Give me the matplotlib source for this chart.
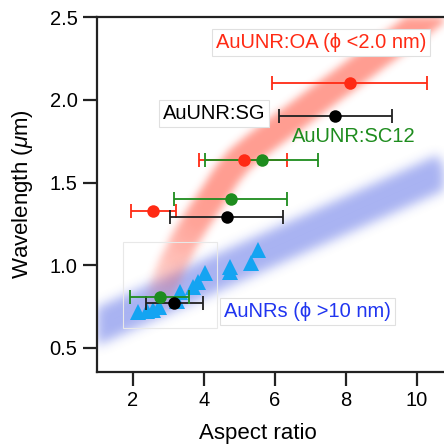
import numpy as np
import matplotlib
matplotlib.use("Agg")
import matplotlib.pyplot as plt
from matplotlib.collections import LineCollection
from matplotlib.patches import Rectangle

plt.rcParams['font.family'] = ['Liberation Sans', 'DejaVu Sans']
plt.rcParams['mathtext.fontset'] = 'custom'
plt.rcParams['mathtext.it'] = 'Liberation Sans:italic'
plt.rcParams['mathtext.rm'] = 'Liberation Sans'

# ---------------- data ----------------
oa_x = [2.57, 5.12, 8.10]
oa_y = [1.328, 1.637, 2.105]
oa_xmin = [1.93, 3.87, 5.92]
oa_xmax = [3.21, 6.34, 10.28]

sg_x = [3.15, 4.64, 7.70]
sg_y = [0.772, 1.29, 1.905]
sg_xmin = [2.36, 3.03, 6.11]
sg_xmax = [3.98, 6.22, 9.30]

sc_x = [2.76, 4.75, 5.63]
sc_y = [0.808, 1.40, 1.637]
sc_xmin = [1.92, 3.16, 4.04]
sc_xmax = [3.58, 6.34, 7.22]

nr_x = [2.15, 2.4, 2.55, 2.72, 3.25, 3.33, 3.7, 3.82, 4.04, 4.74, 4.74, 5.32, 5.52]
nr_y = [0.715, 0.72, 0.73, 0.745, 0.78, 0.84, 0.87, 0.90, 0.95, 0.96, 0.99, 1.01, 1.09]

# guide bands (hand-read centre lines)
red_band_x = [2.72, 2.80, 2.90, 3.00, 3.10, 3.27, 3.45, 3.65, 3.85, 4.10, 4.35, 4.65, 5.00, 5.45, 5.95, 7.20, 8.45, 9.70, 11.05]
red_band_y = [0.78, 0.84, 0.90, 0.95, 1.00, 1.07, 1.15, 1.22, 1.29, 1.37, 1.45, 1.55, 1.64, 1.72, 1.80, 2.00, 2.20, 2.40, 2.62]
red_band_fade = [0.0, 0.15, 0.30, 0.42, 0.52, 0.62, 0.72, 0.82, 0.90, 0.97, 1, 1, 1, 1, 1, 1, 1, 1, 1]

blue_band_x = [0.8, 11.4]
blue_band_y = [0.61, 1.63]

xticks = [2, 4, 6, 8, 10]
yticks = [0.5, 1.0, 1.5, 2.0, 2.5]
ytick_labels = ['0.5', '1.0', '1.5', '2.0', '2.5']

RED = '#ff2a14'
GREEN = '#1e8c1e'
BLACK = '#000000'
BLUE_TXT = '#2035f0'
TRI = '#14a4f2'


class BandFilter:
    def __init__(self, color, alpha, sigma):
        self.color = np.array(matplotlib.colors.to_rgb(color))
        self.alpha = alpha
        self.sigma = sigma

    def __call__(self, im, dpi):
        s = self.sigma
        r = int(3 * s) + 1
        a = im[..., 3] * im[..., 0]
        a = np.pad(a, r)
        k = np.exp(-0.5 * (np.arange(-r, r + 1) / s) ** 2)
        k /= k.sum()
        out = np.zeros_like(a)
        for i, w in enumerate(k):
            out += w * np.roll(a, i - r, axis=0)
        out2 = np.zeros_like(a)
        for i, w in enumerate(k):
            out2 += w * np.roll(out, i - r, axis=1)
        res = np.zeros(a.shape + (4,))
        res[..., :3] = self.color
        res[..., 3] = np.clip(out2 * self.alpha, 0, 1)
        return res, -r, -r


fig = plt.figure(figsize=(4.44, 4.44), dpi=100)
ax = fig.add_axes([97 / 444, 72 / 444, 363 / 444, 355 / 444])
ax.set_xlim(0.986, 11.21)
ax.set_ylim(0.353, 2.502)
ax.set_axisbelow(False)

# blue band
bl, = ax.plot(blue_band_x, blue_band_y, color=(1, 0.3, 0.3), lw=25, solid_capstyle='butt', zorder=1)
bl.set_agg_filter(BandFilter('#3048e0', 0.42, 5.5))

# red band with fading lower end
pts = np.column_stack([red_band_x, red_band_y])
segs = [pts[i:i + 2] for i in range(len(pts) - 1)]
fade = np.array(red_band_fade)
segv = (fade[:-1] + fade[1:]) / 2
lc = LineCollection(segs, colors=[(v, 0.3 * v, 0.3 * v, 1) for v in segv], linewidths=19,
                    capstyle='round', antialiaseds=False, zorder=1.1)
lc.set_agg_filter(BandFilter('#ff3a22', 0.5, 4.0))
ax.add_collection(lc)

# masks so blur does not spill outside the frame
for (x0, y0, w, h) in [(-0.1, -0.1, 0.1, 1.2), (0, 1, 1.1, 0.1), (0, -0.1, 1.1, 0.1)]:
    ax.add_patch(Rectangle((x0, y0), w, h, transform=ax.transAxes, fc='white',
                           ec='none', clip_on=False, zorder=1.9))

# faint frame artefact
ax.add_patch(Rectangle((1.72, 0.62), 2.65, 0.52, fc='none', ec='#e8e8e8', lw=0.8, zorder=2))

# triangles
ax.plot(nr_x, nr_y, linestyle='none', marker='^', markersize=12, color=TRI,
        markeredgewidth=0, zorder=3)

def ebar(x, y, xmin, xmax, c):
    x = np.array(x); xmin = np.array(xmin); xmax = np.array(xmax)
    ax.errorbar(x, y, xerr=[x - xmin, xmax - x], fmt='none', ecolor=c,
                elinewidth=1.3, capsize=4.8, capthick=1.3, zorder=4)

ebar(oa_x, oa_y, oa_xmin, oa_xmax, RED)
ebar(sg_x, sg_y, sg_xmin, sg_xmax, '#202020')
ebar(sc_x, sc_y, sc_xmin, sc_xmax, GREEN)
ax.plot(oa_x, oa_y, 'o', color=RED, markersize=9, markeredgewidth=0, zorder=5)
ax.plot(sg_x, sg_y, 'o', color=BLACK, markersize=9, markeredgewidth=0, zorder=5)
ax.plot(sc_x, sc_y, 'o', color=GREEN, markersize=9, markeredgewidth=0, zorder=5)

# labels
box = dict(boxstyle='square,pad=0.2', fc='white', ec='#e0e0e0', lw=0.8)
ax.text(4.33, 2.35, 'AuUNR:OA (ϕ <2.0 nm)', color=RED, fontsize=14.5, va='center', ha='left', bbox=box, zorder=6)
ax.text(2.84, 1.915, 'AuUNR:SG', color=BLACK, fontsize=14.5, va='center', ha='left', bbox=box, zorder=6)
ax.text(6.48, 1.777, 'AuUNR:SC12', color=GREEN, fontsize=14.5, va='center', ha='left', zorder=6)
ax.text(4.57, 0.719, 'AuNRs (ϕ >10 nm)', color=BLUE_TXT, fontsize=14.5, va='center', ha='left', bbox=box, zorder=6)

# axes styling
for side in ['left', 'top', 'bottom', 'right']:
    ax.spines[side].set_linewidth(1.6)
    ax.spines[side].set_color('#222222')
    ax.spines[side].set_zorder(3)
ax.set_xticks(xticks)
ax.set_yticks(yticks)
ax.set_yticklabels(ytick_labels)
ax.tick_params(direction='out', length=10, width=1.6, color='#222222', labelsize=14.5, pad=4)
ax.set_xlabel('Aspect ratio', fontsize=16)
ax.set_ylabel(r'Wavelength ($\mu$m)', fontsize=16)
ax.xaxis.set_label_coords(0.443, -0.145)
ax.yaxis.set_label_coords(-0.17, 0.5)

fig.savefig('out.png', dpi=100)
